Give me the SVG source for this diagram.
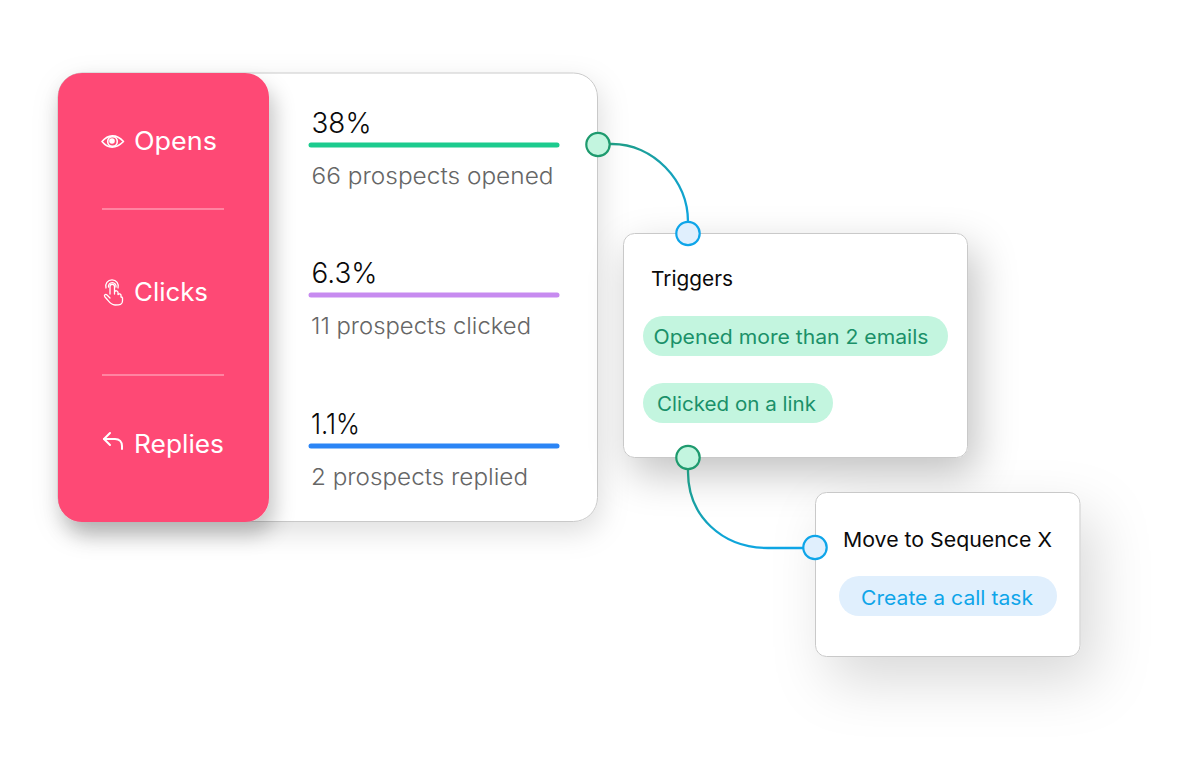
<svg xmlns="http://www.w3.org/2000/svg" width="1200" height="758" viewBox="0 0 1200 758">
<defs>
<filter id="sh0" x="-20%" y="-20%" width="140%" height="140%"><feDropShadow dx="6" dy="13" stdDeviation="10" flood-color="#000" flood-opacity="0.22"/></filter>
<filter id="sh1" x="-20%" y="-20%" width="140%" height="140%"><feDropShadow dx="3" dy="10" stdDeviation="14" flood-color="#000" flood-opacity="0.13"/></filter>
<filter id="sh2" x="-30%" y="-30%" width="170%" height="170%"><feDropShadow dx="8" dy="16" stdDeviation="20" flood-color="#000" flood-opacity="0.24"/></filter>
<filter id="sh3" x="-40%" y="-40%" width="200%" height="200%"><feDropShadow dx="14" dy="24" stdDeviation="28" flood-color="#000" flood-opacity="0.15"/></filter>
<linearGradient id="g1" gradientUnits="userSpaceOnUse" x1="610" y1="144" x2="688" y2="222"><stop offset="0" stop-color="#1f9d84"/><stop offset="1" stop-color="#0ea5e0"/></linearGradient>
<linearGradient id="g2" gradientUnits="userSpaceOnUse" x1="688" y1="469" x2="803" y2="548"><stop offset="0" stop-color="#1f9d84"/><stop offset="0.45" stop-color="#0ea5d5"/><stop offset="1" stop-color="#0ea5e9"/></linearGradient>
</defs>
<style>
text{font-family:"Inter","Noto Sans","Liberation Sans",sans-serif}
.card{fill:#fff;stroke:#c9c9c9;stroke-width:1}
.lab{fill:#fff;font-size:25px;font-weight:400}
.pct{fill:#0a0a0a;font-size:29px;font-weight:300}
.sub{fill:#666;font-size:23px;font-weight:300}
.ttl{fill:#0a0a0a;font-size:20.5px}
.tag{fill:#1a9069;font-size:19.5px}
.tagb{fill:#0ea5e9;font-size:19.5px}
.pg{fill:#c3f5df}
.dg{fill:#c3f5df;stroke:#1e9a6e;stroke-width:2.2}
.db{fill:#e0effd;stroke:#0ea5e9;stroke-width:2.2}
.bar{stroke-width:5;stroke-linecap:round;fill:none}
.ic{fill:none;stroke:#fff;stroke-width:1.6;stroke-linecap:round;stroke-linejoin:round}
.sep{stroke:#ff84a1;stroke-width:2.2}
.conn{fill:none;stroke-width:2.3}
</style>

<g id="stats-card">
<rect class="card" x="58" y="73" width="539.500" height="448.500" rx="24" filter="url(#sh1)"/>
<text class="pct" x="311.500" y="133" textLength="60" lengthAdjust="spacingAndGlyphs">38%</text>
<line class="bar" x1="311" y1="145" x2="557" y2="145" stroke="#1ccb8e"/>
<text class="sub" x="311.500" y="184" textLength="242" lengthAdjust="spacingAndGlyphs">66 prospects opened</text>
<text class="pct" x="311.500" y="283" textLength="66" lengthAdjust="spacingAndGlyphs">6.3%</text>
<line class="bar" x1="311" y1="295" x2="557" y2="295" stroke="#c78bf0"/>
<text class="sub" x="311" y="334" textLength="220" lengthAdjust="spacingAndGlyphs">11 prospects clicked</text>
<text class="pct" x="311" y="434" textLength="49" lengthAdjust="spacingAndGlyphs">1.1%</text>
<line class="bar" x1="311" y1="446" x2="557" y2="446" stroke="#2b85f5"/>
<text class="sub" x="311" y="485" textLength="217" lengthAdjust="spacingAndGlyphs">2 prospects replied</text>
</g>

<g id="metric-panel">
<rect x="58" y="73" width="211" height="449" rx="24" fill="#fe4a75" filter="url(#sh0)"/>
<g class="ic">
<path d="M102 141.500C108 134.500 116 133.500 123.500 141.500C116 149 108 149 102 141.500Z"/>
<circle cx="112.500" cy="141.500" r="4.800"/>
<circle cx="112" cy="141" r="2.800" fill="#fff" stroke="none"/>
</g>
<text class="lab" x="134" y="150" textLength="83" lengthAdjust="spacingAndGlyphs">Opens</text>
<line class="sep" x1="102" y1="209" x2="224" y2="209"/>
<g class="ic" style="stroke-width:1.3">
<path d="M110 294V286.500A2 2 0 0 1 114.500 286.500V294L114.500 292A1.800 1.800 0 0 1 118 292.500V294.500A1.700 1.700 0 0 1 121 295V297A1.500 1.500 0 0 1 122.500 298V301C122.500 304.500 120 305 115 305C110 305 109 301 105 297C103.500 295 105.500 293.500 107 295L110 298"/>
<path d="M106 288A6.300 6.300 0 1 1 118 288"/>
<path d="M108.500 287A3.800 3.800 0 1 1 116 287"/>
</g>
<text class="lab" x="134" y="301" textLength="74" lengthAdjust="spacingAndGlyphs">Clicks</text>
<line class="sep" x1="102" y1="375" x2="224" y2="375"/>
<g class="ic" style="stroke-width:2">
<path d="M110 433L104 439L110 445"/>
<path d="M104 439H115C119.500 439 122 442 122 446V449"/>
</g>
<text class="lab" x="134" y="453" textLength="90" lengthAdjust="spacingAndGlyphs">Replies</text>
</g>

<g id="triggers-card">
<rect class="card" x="623.500" y="233.500" width="344" height="224" rx="11" filter="url(#sh2)"/>
<text class="ttl" x="651" y="286" textLength="82" lengthAdjust="spacingAndGlyphs">Triggers</text>
<rect class="pg" x="643" y="316" width="305" height="40" rx="20"/>
<text class="tag" x="653.500" y="343.500" textLength="275" lengthAdjust="spacingAndGlyphs">Opened more than 2 emails</text>
<rect class="pg" x="643" y="383" width="190" height="40" rx="20"/>
<text class="tag" x="657" y="410.500" textLength="159" lengthAdjust="spacingAndGlyphs">Clicked on a link</text>
</g>

<g id="action-card">
<rect class="card" x="815.500" y="492.500" width="264.500" height="164" rx="11" filter="url(#sh3)"/>
<text class="ttl" x="843" y="546.500" textLength="209" lengthAdjust="spacingAndGlyphs">Move to Sequence X</text>
<rect x="839" y="576" width="218" height="40" rx="20" fill="#e0effd"/>
<text class="tagb" x="861" y="604.500" textLength="172" lengthAdjust="spacingAndGlyphs">Create a call task</text>
</g>

<g id="connectors">
<path class="conn" stroke="url(#g1)" d="M610 144H612C653 144 688 180 688 222"/>
<path class="conn" stroke="url(#g2)" d="M688 469V472C688 516 722 548 768 548H804"/>
</g>
<g id="port-opens"><circle class="dg" cx="598" cy="144.500" r="11.700"/></g>
<g id="port-triggers-in"><circle class="db" cx="688" cy="233.500" r="11.700"/></g>
<g id="port-triggers-out"><circle class="dg" cx="688" cy="457.500" r="11.700"/></g>
<g id="port-action-in"><circle class="db" cx="815" cy="547.500" r="11.700"/></g>
</svg>
